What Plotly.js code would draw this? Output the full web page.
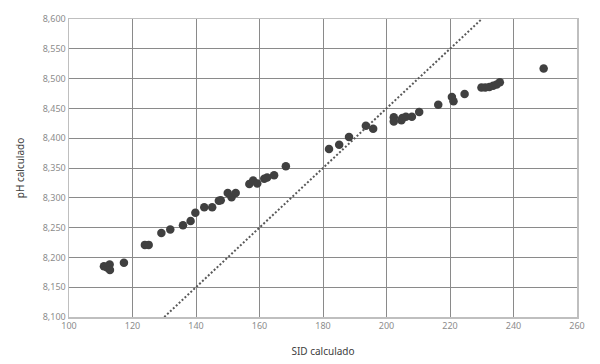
<!DOCTYPE html>
<html>
<head>
<meta charset="utf-8">
<script src="https://cdn.plot.ly/plotly-3.0.1.min.js"></script>
<style>html,body{margin:0;padding:0;background:#fff;}#chart{width:600px;height:364px;}</style>
</head>
<body>
<div id="chart"></div>
<script>
// Data
var sidValues = [111.0, 112.0, 112.8, 112.9, 117.3, 123.9, 125.1, 129.1, 131.9, 135.9, 138.3, 139.8,
  142.6, 145.1, 147.2, 147.8, 150.0, 151.2, 152.5, 156.8, 158.0, 159.3, 161.5, 162.4, 164.6, 168.3,
  181.9, 185.1, 188.2, 193.5, 195.8, 202.3, 202.3, 204.7, 205.0, 206.1, 208.0, 210.3, 216.3,
  220.6, 221.1, 224.6, 229.9, 231.1, 232.4, 233.6, 234.7, 235.7, 249.5];
var phValues = [8.185, 8.183, 8.188, 8.179, 8.191, 8.221, 8.221, 8.241, 8.247, 8.254, 8.261, 8.275,
  8.284, 8.284, 8.295, 8.296, 8.308, 8.301, 8.308, 8.323, 8.329, 8.324, 8.332, 8.334, 8.338, 8.353,
  8.382, 8.389, 8.402, 8.421, 8.416, 8.435, 8.428, 8.430, 8.434, 8.436, 8.436, 8.444, 8.456,
  8.469, 8.462, 8.474, 8.485, 8.485, 8.486, 8.488, 8.490, 8.494, 8.517];
var refLineX = [130, 230];
var refLineY = [8.1, 8.6];
var xTitle = 'SID calculado';
var yTitle = 'pH calculado';

var traces = [
  {x: refLineX, y: refLineY, type: 'scatter', mode: 'lines',
   line: {color: '#595959', width: 2, dash: '2px,2px'}, hoverinfo: 'skip'},
  {x: sidValues, y: phValues, type: 'scatter', mode: 'markers',
   marker: {color: '#404040', size: 8.5, line: {width: 0}}}
];

var layout = {
  width: 600, height: 364,
  margin: {l: 69, r: 23, t: 19, b: 47},
  paper_bgcolor: '#fff', plot_bgcolor: '#fff',
  showlegend: false,
  separators: ',.',
  font: {family: 'Noto Sans, Open Sans, sans-serif', size: 9, color: '#808080'},
  xaxis: {
    range: [100, 260], dtick: 20, tick0: 100,
    showgrid: true, gridcolor: '#8a8a8a', gridwidth: 1,
    zeroline: false, showline: true, linecolor: '#bfbfbf', linewidth: 1.5, mirror: true,
    ticks: '', ticklen: 0,
    tickfont: {size: 9, color: '#8c8c8c'},
    title: {text: xTitle, font: {size: 10, color: '#404040'}, standoff: 16},
    automargin: false
  },
  yaxis: {
    range: [8.1, 8.6], dtick: 0.05, tick0: 8.1, tickformat: '.3f',
    showgrid: true, gridcolor: '#8a8a8a', gridwidth: 1,
    zeroline: false, showline: true, linecolor: '#bfbfbf', linewidth: 1.5, mirror: true,
    ticks: '', ticklen: 0,
    tickfont: {size: 9, color: '#8c8c8c'},
    title: {text: yTitle, font: {size: 10, color: '#404040'}, standoff: 16},
    automargin: false
  }
};

Plotly.newPlot('chart', traces, layout, {displayModeBar: false, staticPlot: true});
</script>
</body>
</html>
